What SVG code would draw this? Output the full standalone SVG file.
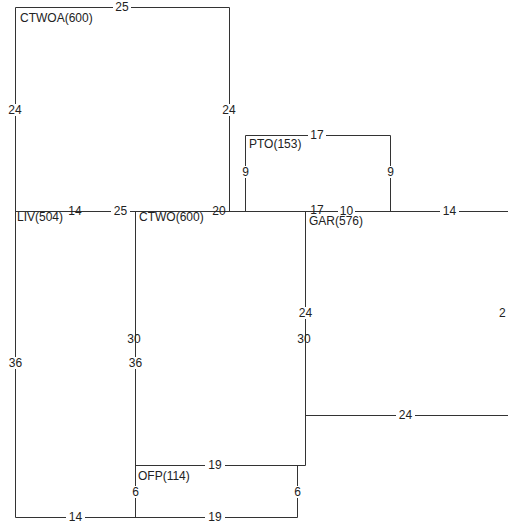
<svg xmlns="http://www.w3.org/2000/svg" width="508" height="521" viewBox="0 0 508 521">
<style>
.ln{stroke:#333;stroke-width:1;fill:none}
.t{font-family:"Liberation Sans",Arial,sans-serif;font-size:12px;fill:#222}
.n{font-family:"Liberation Sans",Arial,sans-serif;font-size:12px;fill:#222;text-anchor:middle}
.bg{fill:#fff}
</style>
<rect width="508" height="521" fill="#fff"/>
<g id="connectors">
<path class="ln" d="M15.5,517.5V7.5H229.5V211.5"/>
<path class="ln" d="M15.5,211.5H508"/>
<path class="ln" d="M245.5,211.5V135.5H390.5V211.5"/>
<path class="ln" d="M135.5,211.5V517.5"/>
<path class="ln" d="M305.5,211.5V465.5H135.5"/>
<path class="ln" d="M305.5,415.5H508"/>
<path class="ln" d="M297.5,465.5V517.5H15.5"/>
</g>
<g id="edge-labels">
<rect class="bg" x="113" y="1" width="18" height="12"/><text class="n" x="122" y="11">25</text>
<rect class="bg" x="7" y="104" width="16" height="12"/><text class="n" x="15" y="114">24</text>
<rect class="bg" x="221" y="104" width="16" height="12"/><text class="n" x="229" y="114">24</text>
<text class="n" x="75" y="215">14</text>
<rect class="bg" x="111" y="205" width="19" height="12"/><text class="n" x="120.5" y="215">25</text>
<text class="n" x="219" y="215">20</text>
<text class="n" x="317" y="214">17</text>
<rect class="bg" x="338" y="205" width="17" height="12"/><text class="n" x="346.5" y="215">10</text>
<rect class="bg" x="440" y="205" width="19" height="12"/><text class="n" x="449.5" y="215">14</text>
<rect class="bg" x="308" y="129" width="18" height="12"/><text class="n" x="317" y="139">17</text>
<rect class="bg" x="240" y="166" width="11" height="12"/><text class="n" x="245.5" y="176">9</text>
<rect class="bg" x="385" y="166" width="11" height="12"/><text class="n" x="390.5" y="176">9</text>
<text class="n" x="134" y="343">30</text>
<rect class="bg" x="127" y="357" width="17" height="12"/><text class="n" x="135.5" y="367">36</text>
<rect class="bg" x="7" y="357" width="17" height="12"/><text class="n" x="15.5" y="367">36</text>
<rect class="bg" x="297" y="307" width="17" height="12"/><text class="n" x="305.5" y="317">24</text>
<text class="n" x="304" y="343">30</text>
<text class="t" x="499" y="317">2</text>
<rect class="bg" x="396" y="409" width="19" height="12"/><text class="n" x="405.5" y="419">24</text>
<rect class="bg" x="205" y="459" width="20" height="12"/><text class="n" x="215" y="469">19</text>
<rect class="bg" x="130" y="486" width="11" height="12"/><text class="n" x="135.5" y="496">6</text>
<rect class="bg" x="292" y="486" width="11" height="12"/><text class="n" x="297.5" y="496">6</text>
<rect class="bg" x="66" y="511" width="19" height="10"/><text class="n" x="75.5" y="521">14</text>
<rect class="bg" x="205" y="511" width="20" height="10"/><text class="n" x="215" y="521">19</text>
</g>
<g id="CTWOA"><text class="t" x="20" y="21.5">CTWOA(600)</text></g>
<g id="PTO"><text class="t" x="249" y="148">PTO(153)</text></g>
<g id="LIV"><text class="t" x="17" y="221">LIV(504)</text></g>
<g id="CTWO"><text class="t" x="139" y="221">CTWO(600)</text></g>
<g id="GAR"><text class="t" x="309" y="225">GAR(576)</text></g>
<g id="OFP"><text class="t" x="138" y="480">OFP(114)</text></g>
</svg>
